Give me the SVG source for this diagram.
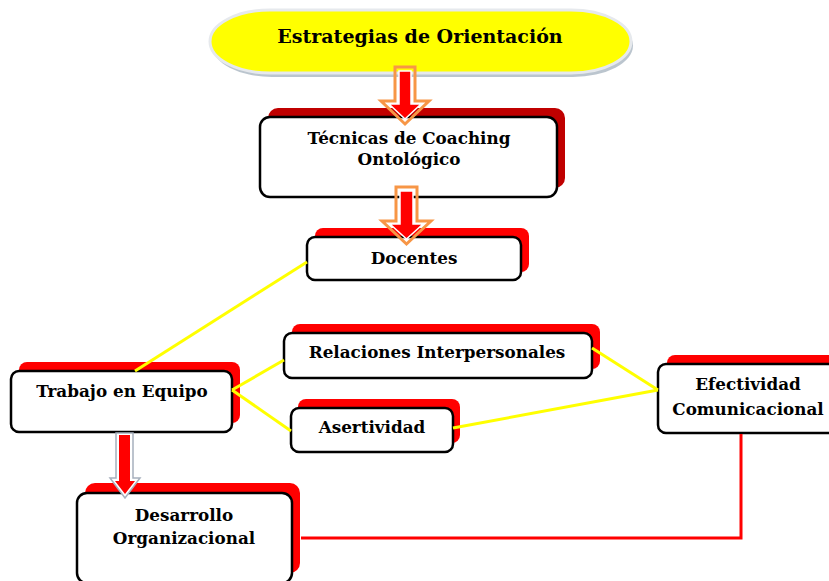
<svg xmlns="http://www.w3.org/2000/svg" width="829" height="581" viewBox="0 0 829 581">
<style>
.box{fill:#fff;stroke:#000;stroke-width:2.5}
.sh{fill:#ff0000}
.shd{fill:#c00000}
.t{font-family:"DejaVu Serif","Liberation Serif",serif;font-weight:bold;font-size:16.8px;fill:#000;text-anchor:middle}
.yl{stroke:#ffff00;stroke-width:3;fill:none}
.rl{stroke:#ff0000;stroke-width:3;fill:none}
.arr{fill:#ff0000;stroke:#fff;stroke-width:1.5}
.arro{fill:none;stroke:#f79646;stroke-width:3;stroke-linejoin:miter}
</style>
<rect width="829" height="581" fill="#fff"/>
<g id="n-estrategias">
<rect x="212" y="14" width="421" height="63" rx="60" ry="32" fill="#aab6c2" opacity="0.8"/>
<rect x="210" y="10" width="421" height="63" rx="60" ry="32" fill="#ffff00" stroke="#e6e9ed" stroke-width="3"/>
<text class="t" x="420" y="43" style="font-size:19px">Estrategias de Orientación</text>
</g>
<g id="n-tecnicas">
<rect class="shd" x="268" y="108" width="297" height="80" rx="10"/>
<rect class="box" x="260" y="117" width="297" height="80" rx="10"/>
<text class="t" x="409" y="144">Técnicas de Coaching</text>
<text class="t" x="409" y="165">Ontológico</text>
</g>
<g id="n-docentes">
<rect class="sh" x="315" y="228" width="214" height="44" rx="8"/>
<rect class="box" x="307" y="237" width="214" height="43" rx="8"/>
<text class="t" x="414" y="264">Docentes</text>
</g>
<g id="n-trabajo">
<rect class="sh" x="19" y="362" width="221" height="61" rx="8"/>
<rect class="box" x="11" y="371" width="221" height="61" rx="8"/>
<text class="t" x="122" y="397">Trabajo en Equipo</text>
</g>
<g id="n-relaciones">
<rect class="sh" x="292" y="324" width="308" height="45" rx="8"/>
<rect class="box" x="284" y="333" width="308" height="45" rx="8"/>
<text class="t" x="437" y="358">Relaciones Interpersonales</text>
</g>
<g id="n-asertividad">
<rect class="sh" x="298" y="399" width="162" height="44" rx="8"/>
<rect class="box" x="291" y="408" width="162" height="44" rx="8"/>
<text class="t" x="372" y="433">Asertividad</text>
</g>
<g id="n-efectividad">
<rect class="sh" x="667" y="355" width="180" height="69" rx="8"/>
<rect class="box" x="658" y="364" width="180" height="69" rx="8"/>
<text class="t" x="748" y="390">Efectividad</text>
<text class="t" x="748" y="415">Comunicacional</text>
</g>
<g id="n-desarrollo">
<rect class="sh" x="85" y="483" width="215" height="90" rx="10"/>
<rect class="box" x="77" y="493" width="215" height="90" rx="10"/>
<text class="t" x="184" y="521">Desarrollo</text>
<text class="t" x="184" y="544">Organizacional</text>
</g>
<g id="connectors">
<line class="yl" x1="307" y1="262" x2="135" y2="371"/>
<line class="yl" x1="232" y1="390" x2="284" y2="360"/>
<line class="yl" x1="232" y1="390" x2="291" y2="431"/>
<line class="yl" x1="592" y1="348" x2="658" y2="390"/>
<line class="yl" x1="453" y1="428" x2="658" y2="390"/>
<polyline class="rl" points="741,434 741,538 301,538"/>
<g id="arrow1">
<path class="arro" d="M395,67 H415 V101 H429 L405,124 L381,101 H395 Z"/>
<path class="arr" d="M399,71 H411 V104 H421 L405,119 L389,104 H399 Z"/>
</g>
<g id="arrow2">
<path class="arro" d="M396,187 H417 V221 H431 L406.5,244 L382,221 H396 Z"/>
<path class="arr" d="M400,191 H413 V224 H423 L406.5,239 L390,224 H400 Z"/>
</g>
<g id="arrow3">
<path d="M116,433 H133 V478 H140 L125,498 L110,478 H116 Z" fill="#fff" stroke="#a6b0bd" stroke-width="1.5"/>
<path d="M119,435 H130 V481 H135 L125,494 L115,481 H119 Z" fill="#ff0000"/>
</g>
</g>
</svg>
